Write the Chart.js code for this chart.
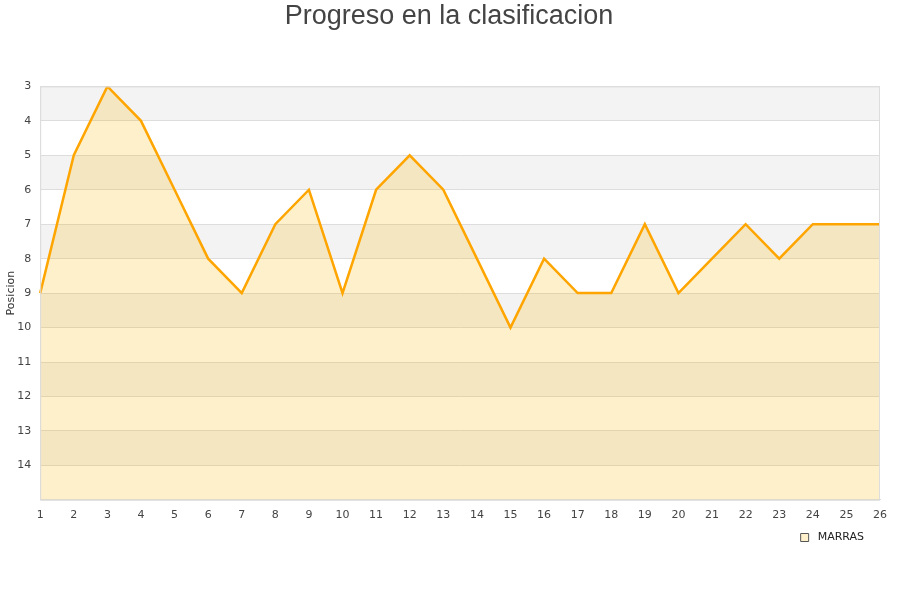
<!DOCTYPE html>
<html>
<head>
<meta charset="utf-8">
<script src="https://cdn.jsdelivr.net/npm/chart.js@4/dist/chart.umd.min.js"></script>
<style>
    body { margin: 0; background: #fff; }
    #wrap { width: 900px; height: 600px; }
</style>
</head>
<body>
<div id="wrap"><canvas id="posChart"></canvas></div>
<script>
const jornadas = ['1','2','3','4','5','6','7','8','9','10','11','12','13','14','15','16','17','18','19','20','21','22','23','24','25','26'];
const posiciones = [9, 5, 3, 4, 6, 8, 9, 7, 6, 9, 6, 5, 6, 8, 10, 8, 9, 9, 7, 9, 8, 7, 8, 7, 7, 7];
const yMin = 3;
const yMax = 15;

// Alternating bands + frame behind the data
const bandsPlugin = {
    id: 'bands',
    beforeDraw(chart) {
        const { ctx, chartArea, scales } = chart;
        const y = scales.y;
        ctx.save();
        for (let v = yMin; v < yMax; v += 2) {
            const top = y.getPixelForValue(v);
            const bottom = y.getPixelForValue(v + 1);
            ctx.fillStyle = '#f3f3f3';
            ctx.fillRect(chartArea.left, top, chartArea.right - chartArea.left, bottom - top);
        }
        ctx.restore();
    },
    afterDatasetsDraw(chart) {
        const { ctx, chartArea } = chart;
        ctx.save();
        ctx.strokeStyle = '#dddddd';
        ctx.lineWidth = 1;
        ctx.strokeRect(chartArea.left + 0.5, chartArea.top + 0.5,
            chartArea.right - chartArea.left - 1, chartArea.bottom - chartArea.top);
        ctx.restore();
    }
};

const ctx = document.getElementById('posChart').getContext('2d');
new Chart(ctx, {
    type: 'line',
    data: {
        labels: jornadas,
        datasets: [{
            label: 'MARRAS',
            data: posiciones,
            borderColor: '#ffa500',
            backgroundColor: 'rgba(255, 179, 0, 0.2)',
            borderWidth: 2.5,
            fill: 'start',
            pointRadius: 0,
            tension: 0
        }]
    },
    options: {
        responsive: true,
        maintainAspectRatio: false,
        animation: false,
        layout: { padding: { left: 18, right: 20, top: 0, bottom: 47 } },
        plugins: {
            title: {
                display: true,
                text: 'Progreso en la clasificacion',
                color: '#444444',
                font: { family: 'Liberation Sans, Arial, sans-serif', size: 27, weight: 'normal' },
                padding: { top: 0, bottom: 54 }
            },
            legend: {
                position: 'bottom',
                align: 'end',
                labels: {
                    boxWidth: 8,
                    boxHeight: 8,
                    padding: 2,
                    color: '#222',
                    font: { family: 'DejaVu Sans, sans-serif', size: 11 },
                    generateLabels: () => [{
                        text: ' MARRAS    ',
                        fillStyle: '#fff0cc',
                        strokeStyle: '#555',
                        lineWidth: 1,
                        fontColor: '#222'
                    }]
                }
            },
            tooltip: { enabled: false }
        },
        scales: {
            x: {
                offset: false,
                grid: { display: false },
                border: { color: '#dddddd' },
                afterFit: scale => { scale.height += 7; },
                ticks: {
                    color: '#444',
                    font: { family: 'DejaVu Sans, sans-serif', size: 11 },
                    maxRotation: 0,
                    autoSkip: false,
                    padding: 1
                }
            },
            y: {
                reverse: true,
                min: yMin,
                max: yMax,
                grid: { color: '#dddddd', drawTicks: false },
                border: { color: '#dddddd' },
                afterFit: scale => { scale.width -= 10; },
                title: {
                    display: true,
                    text: 'Posicion',
                    color: '#333',
                    font: { family: 'DejaVu Sans, sans-serif', size: 11 },
                    padding: { top: -13, bottom: 0 }
                },
                ticks: {
                    stepSize: 1,
                    color: '#444',
                    font: { family: 'DejaVu Sans, sans-serif', size: 11 },
                    padding: 9,
                    callback: v => (v === yMax ? '' : v)
                }
            }
        }
    },
    plugins: [bandsPlugin]
});
</script>
</body>
</html>
